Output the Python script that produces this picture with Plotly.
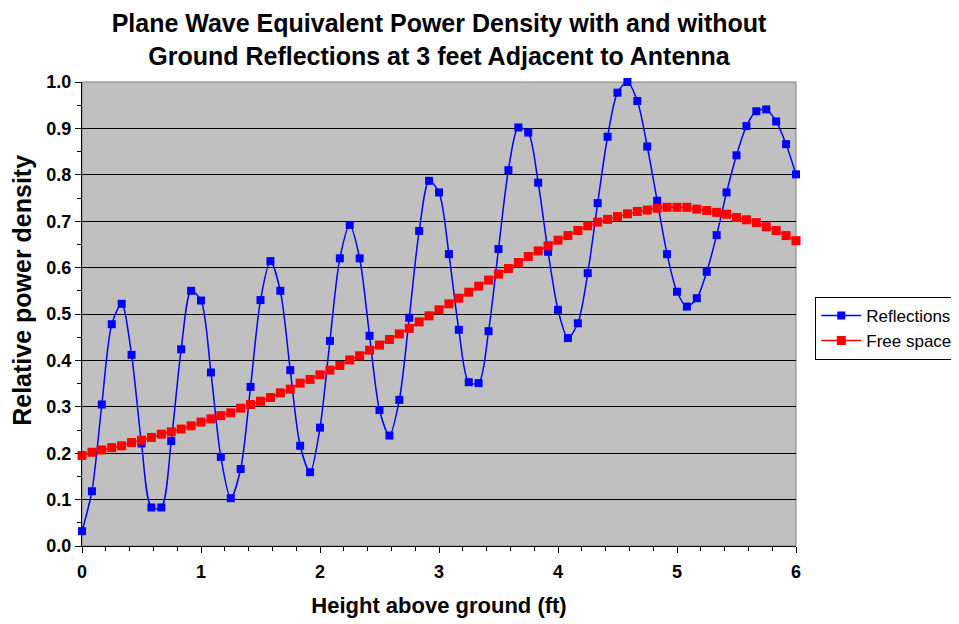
import plotly.graph_objects as go

height_in = list(range(0, 73))  # inches 0..72
height_ft = [h / 12 for h in height_in]

reflections = [
    0.032, 0.118, 0.305, 0.478, 0.522, 0.412, 0.221, 0.083, 0.083, 0.226,
    0.424, 0.550, 0.529, 0.374, 0.192, 0.103, 0.166, 0.343, 0.530, 0.614,
    0.550, 0.379, 0.216, 0.159, 0.255, 0.442, 0.620, 0.692, 0.620, 0.453,
    0.293, 0.238, 0.315, 0.492, 0.679, 0.787, 0.762, 0.629, 0.466, 0.353,
    0.351, 0.463, 0.640, 0.810, 0.902, 0.891, 0.783, 0.634, 0.509, 0.448,
    0.480, 0.588, 0.739, 0.882, 0.977, 1.000, 0.959, 0.861, 0.744, 0.629,
    0.548, 0.516, 0.534, 0.591, 0.670, 0.762, 0.842, 0.905, 0.937, 0.941,
    0.915, 0.866, 0.801,
]

free_space = [
    0.195, 0.202, 0.207, 0.212, 0.216, 0.223, 0.228, 0.234, 0.241, 0.246,
    0.252, 0.259, 0.267, 0.274, 0.281, 0.287, 0.297, 0.305, 0.312, 0.320,
    0.330, 0.338, 0.351, 0.359, 0.369, 0.379, 0.389, 0.401, 0.410, 0.422,
    0.433, 0.445, 0.457, 0.469, 0.483, 0.496, 0.509, 0.522, 0.534, 0.547,
    0.560, 0.573, 0.586, 0.598, 0.611, 0.624, 0.636, 0.647, 0.659, 0.669,
    0.680, 0.690, 0.698, 0.704, 0.710, 0.716, 0.721, 0.724, 0.728, 0.730,
    0.730, 0.730, 0.726, 0.723, 0.719, 0.715, 0.708, 0.703, 0.697, 0.688,
    0.680, 0.669, 0.658,
]

title_text = ("Plane Wave Equivalent Power Density with and without<br>"
              "Ground Reflections at 3 feet Adjacent to Antenna")
x_title = "Height above ground (ft)"
y_title = "Relative power density"

FONT = "Liberation Sans, Arial, sans-serif"

# the page body has an 8px default margin, so the figure is drawn 8px in
W, H = 951, 616

fig = go.Figure()
fig.add_trace(go.Scatter(
    x=height_ft, y=reflections, name="Reflections", mode="lines+markers",
    line=dict(color="#0000FF", width=1.5, shape="spline", smoothing=0.8),
    marker=dict(symbol="square", size=8, color="#0000FF", line=dict(width=0)),
    cliponaxis=False,
))
fig.add_trace(go.Scatter(
    x=height_ft, y=free_space, name="Free space", mode="lines+markers",
    line=dict(color="#FF0000", width=1.5),
    marker=dict(symbol="square", size=9, color="#FF0000", line=dict(width=0)),
    cliponaxis=False,
))

fig.update_layout(
    width=W, height=H,
    margin=dict(l=74, r=163, t=74, b=78, autoexpand=False),
    paper_bgcolor="white",
    plot_bgcolor="#C0C0C0",
    font=dict(family=FONT, color="black"),
    title=dict(text=title_text, x=0.5, xref="paper", xanchor="center",
               y=1 - 24 / H, yref="container", yanchor="top",
               font=dict(size=25, weight="bold", color="black")),
    showlegend=True,
    legend=dict(x=1.027, xanchor="left", y=0.537, yanchor="top",
                bgcolor="white", bordercolor="black", borderwidth=1,
                font=dict(size=17, color="black"), tracegroupgap=0,
                itemwidth=40),
    shapes=[dict(type="rect", xref="paper", yref="paper", x0=0, x1=1, y0=0, y1=1,
                 line=dict(color="#808080", width=1), layer="between")],
    annotations=[dict(text=y_title, textangle=-90, xref="paper", yref="paper",
                      x=-0.084, y=0.55, xanchor="center", yanchor="middle",
                      showarrow=False,
                      font=dict(size=25, weight="bold", color="black"))],
)

fig.update_xaxes(
    range=[0, 6], dtick=1, tick0=0,
    showgrid=False, zeroline=False,
    showline=True, linecolor="black", linewidth=1,
    ticks="outside", ticklen=6, tickcolor="black",
    minor=dict(dtick=0.2, ticks="outside", ticklen=4, tickcolor="black", showgrid=False),
    tickfont=dict(size=18, weight="bold"),
    ticklabelstandoff=3,
    title=dict(text=x_title, font=dict(size=22, weight="bold"), standoff=17),
    automargin=False,
)
fig.update_yaxes(
    range=[0, 1], dtick=0.1, tick0=0, tickformat=".1f",
    showgrid=True, gridcolor="black", gridwidth=1,
    zeroline=False,
    showline=True, linecolor="black", linewidth=1,
    ticks="outside", ticklen=6, tickcolor="black",
    minor=dict(dtick=0.05, ticks="outside", ticklen=4, tickcolor="black", showgrid=False),
    tickfont=dict(size=18, weight="bold"),
    automargin=False,
)

fig.write_html("out.html")
